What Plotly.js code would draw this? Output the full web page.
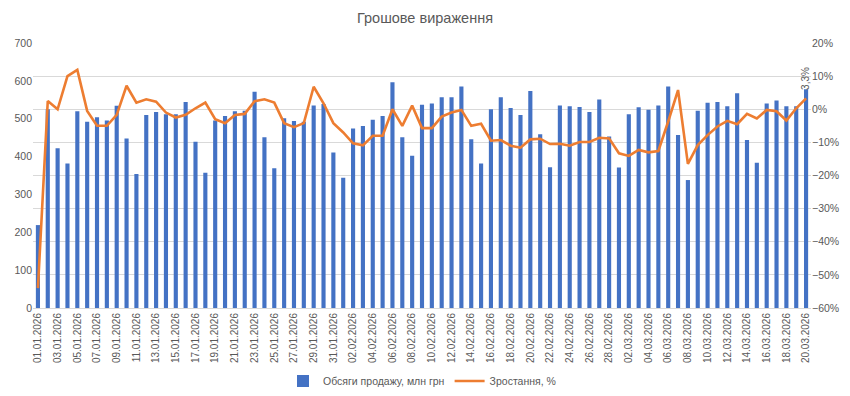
<!DOCTYPE html>
<html>
<head>
<meta charset="utf-8">
<script src="https://cdn.plot.ly/plotly-3.0.1.min.js"></script>
<style>html,body{margin:0;padding:0;background:#fff;}#chart{width:850px;height:396px;}</style>
</head>
<body>
<div id="chart"></div>
<script>
const dates = [
 "01.01.2026","02.01.2026","03.01.2026","04.01.2026","05.01.2026","06.01.2026","07.01.2026","08.01.2026","09.01.2026","10.01.2026",
 "11.01.2026","12.01.2026","13.01.2026","14.01.2026","15.01.2026","16.01.2026","17.01.2026","18.01.2026","19.01.2026","20.01.2026",
 "21.01.2026","22.01.2026","23.01.2026","24.01.2026","25.01.2026","26.01.2026","27.01.2026","28.01.2026","29.01.2026","30.01.2026",
 "31.01.2026","01.02.2026","02.02.2026","03.02.2026","04.02.2026","05.02.2026","06.02.2026","07.02.2026","08.02.2026","09.02.2026",
 "10.02.2026","11.02.2026","12.02.2026","13.02.2026","14.02.2026","15.02.2026","16.02.2026","17.02.2026","18.02.2026","19.02.2026",
 "20.02.2026","21.02.2026","22.02.2026","23.02.2026","24.02.2026","25.02.2026","26.02.2026","27.02.2026","28.02.2026","01.03.2026",
 "02.03.2026","03.03.2026","04.03.2026","05.03.2026","06.03.2026","07.03.2026","08.03.2026","09.03.2026","10.03.2026","11.03.2026",
 "12.03.2026","13.03.2026","14.03.2026","15.03.2026","16.03.2026","17.03.2026","18.03.2026","19.03.2026","20.03.2026"
];
const tickDates = [
 "01.01.2026","03.01.2026","05.01.2026","07.01.2026","09.01.2026","11.01.2026","13.01.2026","15.01.2026","17.01.2026","19.01.2026",
 "21.01.2026","23.01.2026","25.01.2026","27.01.2026","29.01.2026","31.01.2026","02.02.2026","04.02.2026","06.02.2026","08.02.2026",
 "10.02.2026","12.02.2026","14.02.2026","16.02.2026","18.02.2026","20.02.2026","22.02.2026","24.02.2026","26.02.2026","28.02.2026",
 "02.03.2026","04.03.2026","06.03.2026","08.03.2026","10.03.2026","12.03.2026","14.03.2026","16.03.2026","18.03.2026","20.03.2026"
];
const sales = [219,525,422,382,520,492,504,495,534,448,354,
 510,518,512,512,544,439,357,495,507,520,521,571,
 451,369,501,494,492,535,539,411,344,474,481,
 497,507,596,451,402,537,540,557,557,585,446,
 382,525,557,528,510,573,459,372,535,533,531,
 518,551,453,371,512,530,524,535,585,457,338,
 521,542,544,533,567,444,384,540,548,533,533,578];
const growth = [-54,2.5,0,10,11.9,-0.5,-5,-5,-1.7,7.1,2,
 3.0,2.3,-1,-2.5,-1.7,0.3,2,-3,-4.2,-1.7,-1.4,2.4,
 3,2,-4.2,-5.4,-4.2,6.8,1.8,-4.2,-7,-10.3,-10.9,
 -8,-8,0,-5,1.1,-5.7,-5.7,-2.2,-1,-0.2,-5,
 -4.4,-9.5,-9.3,-11,-11.6,-9.1,-8.9,-10.5,-10.4,-11,-9.9,
 -9.9,-8.6,-8.8,-13.3,-14.1,-12.3,-13,-12.6,-3.7,5.8,-16.5,
 -10.8,-7.8,-5.2,-3.5,-4.5,-1.4,-2.8,-0.2,-0.6,-3.4,0.3,3.3];
const salesName = "Обсяги продажу, млн грн";
const growthName = "Зростання, %";
const titleText = "Грошове вираження";

const font = "Liberation Sans, Arial, sans-serif";
const grey = "#595959";
const lastIdx = growth.length - 1;

const traces = [
 {type:'bar', x:dates, y:sales, name:salesName, marker:{color:'#4472C4'}, yaxis:'y'},
 {type:'scatter', mode:'lines', x:dates, y:growth, name:growthName, line:{color:'#ED7D31', width:2.6}, yaxis:'y2'}
];
const layout = {
 width:850, height:396,
 margin:{l:33, r:39, t:43, b:88, autoexpand:false},
 paper_bgcolor:'#fff', plot_bgcolor:'#fff',
 font:{family:font, color:grey, size:10},
 title:{text:titleText, x:0.5, xanchor:'center', y:0.955, yanchor:'middle', font:{family:font, size:14.5, color:grey}},
 bargap:0.58,
 showlegend:true,
 legend:{orientation:'h', x:0.5, xanchor:'center', yref:'container', y:0.038, yanchor:'middle', font:{size:10.5, color:grey}, tracegroupgap:0},
 xaxis:{type:'category', automargin:false, tickmode:'array', tickvals:tickDates, ticktext:tickDates, tickangle:-90,
   tickfont:{size:10, color:grey}, showgrid:false, showline:true, linecolor:'#D9D9D9', ticks:'', range:[-0.5, dates.length-0.5], zeroline:false},
 yaxis:{automargin:false, range:[0,700], dtick:100, showgrid:false, zeroline:false, showline:false, tickfont:{size:10.5, color:grey}, ticks:''},
 yaxis2:{automargin:false, overlaying:'y', side:'right', range:[-60,20], dtick:10, ticksuffix:'%', showgrid:true, gridcolor:'#D9D9D9', gridwidth:1,
   zeroline:false, showline:false, tickfont:{size:10.5, color:grey}, ticks:''},
 annotations:[{x:dates[lastIdx], y:growth[lastIdx], xref:'x', yref:'y2',
   text:growth[lastIdx].toFixed(1).replace('.', ',') + '%', showarrow:false, textangle:-90,
   yanchor:'bottom', yshift:6, font:{size:10, color:grey}}]
};
Plotly.newPlot('chart', traces, layout, {displayModeBar:false, staticPlot:true});
</script>
</body>
</html>
